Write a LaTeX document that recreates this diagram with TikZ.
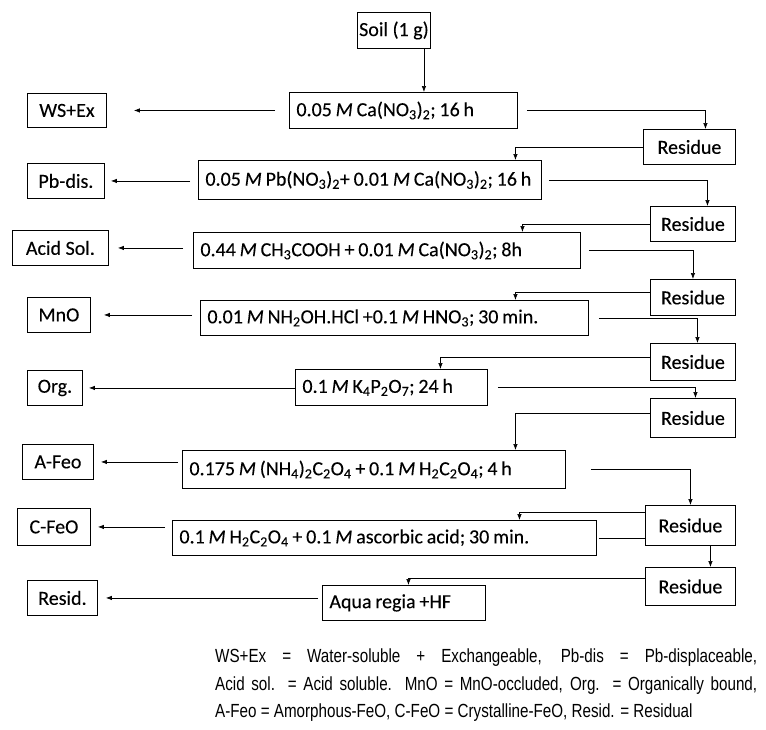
\documentclass[tikz,border=0pt]{standalone}
\usepackage{fontspec}
\setmainfont{Carlito}[FakeBold=0.15]
\newfontfamily\legendfont[FakeStretch=0.8]{Liberation Sans}
\usetikzlibrary{arrows.meta,backgrounds}
\newcommand\chemsub[1]{\textsubscript{#1}}
\newcommand\conc{\textit{M}}
\begin{document}
\begin{tikzpicture}[x=1pt,y=-1pt,
  frame/.style={draw, line width=0.9pt, fill=white, inner sep=0pt, anchor=north west,
                font=\fontsize{20}{24}\selectfont},
  fraction/.style={frame, align=center},
  residue/.style={frame, align=center},
  reagent/.style={frame, align=left, inner xsep=7pt,
                  execute at begin node={\spaceskip=0.19em\relax\hbox\bgroup},
                  execute at end node={\egroup}},
  flow/.style={line width=0.7pt, -{Latex[length=6pt,width=4.5pt]}}
]
\useasboundingbox (0,0) rectangle (766,729);

% start
\node[fraction, minimum width=73pt, minimum height=36pt] (soil) at (357,12) {Soil (1 g)};

% extraction steps
\node[reagent, text width=214pt, minimum height=36pt] (b1) at (289,92)
  {0.05 \conc{} Ca(NO\chemsub{3})\chemsub{2}; 16 h};
\node[reagent, text width=329pt, minimum height=39pt] (b2) at (198,160)
  {0.05 \conc{} Pb(NO\chemsub{3})\chemsub{2}+ 0.01 \conc{} Ca(NO\chemsub{3})\chemsub{2}; 16 h};
\node[reagent, text width=373pt, minimum height=36pt] (b3) at (193,232)
  {0.44 \conc{} CH\chemsub{3}COOH + 0.01 \conc{} Ca(NO\chemsub{3})\chemsub{2}; 8h};
\node[reagent, text width=374pt, minimum height=35pt] (b4) at (200,300)
  {0.01 \conc{} NH\chemsub{2}OH.HCl +0.1 \conc{} HNO\chemsub{3}; 30 min.};
\node[reagent, text width=178pt, minimum height=36pt] (b5) at (295,369)
  {0.1 \conc{} K\chemsub{4}P\chemsub{2}O\chemsub{7}; 24 h};
\node[reagent, text width=369pt, minimum height=38pt] (b6) at (182,450)
  {0.175 \conc{} (NH\chemsub{4})\chemsub{2}C\chemsub{2}O\chemsub{4} + 0.1 \conc{} H\chemsub{2}C\chemsub{2}O\chemsub{4}; 4 h};
\node[reagent, text width=410pt, minimum height=35pt] (b7) at (172,520)
  {0.1 \conc{} H\chemsub{2}C\chemsub{2}O\chemsub{4} + 0.1 \conc{} ascorbic acid; 30 min.};
\node[reagent, text width=149pt, minimum height=35pt] (b8) at (322,585)
  {Aqua regia +HF};

% fractions
\node[fraction, minimum width=79pt, minimum height=34pt] (ws)    at (27,93)  {WS+Ex};
\node[fraction, minimum width=77pt, minimum height=35pt] (pb)    at (27,163) {Pb-dis.};
\node[fraction, minimum width=96pt, minimum height=35pt] (acid)  at (12,230) {Acid Sol.};
\node[fraction, minimum width=63pt, minimum height=35pt] (mno)   at (27,297) {MnO};
\node[fraction, minimum width=55pt, minimum height=35pt] (org)   at (27,370) {Org.};
\node[fraction, minimum width=71pt, minimum height=35pt] (afeo)  at (22,444) {A-Feo};
\node[fraction, minimum width=73pt, minimum height=37pt] (cfeo)  at (17,508) {C-FeO};
\node[fraction, minimum width=70pt, minimum height=35pt] (resid) at (27,580) {Resid.};

% residues
\node[residue, minimum width=92pt, minimum height=35pt] (r1) at (643,129) {Residue};
\node[residue, minimum width=85pt, minimum height=35pt] (r2) at (650,206) {Residue};
\node[residue, minimum width=85pt, minimum height=36pt] (r3) at (650,279) {Residue};
\node[residue, minimum width=85pt, minimum height=37pt] (r4) at (650,343) {Residue};
\node[residue, minimum width=85pt, minimum height=39pt] (r5) at (650,398) {Residue};
\node[residue, minimum width=90pt, minimum height=40pt] (r6) at (645,505) {Residue};
\node[residue, minimum width=90pt, minimum height=38pt] (r7) at (645,567) {Residue};

\begin{scope}[on background layer]
  \draw[flow] ([xshift=30pt]soil.south) -- ([xshift=30pt]soil.south |- b1.north);

  % extracts to fractions
  \draw[flow, shorten <=14pt, shorten >=27pt] (ws.east -| b1.west) -- (ws.east);
  \draw[flow, shorten <=8pt,  shorten >=6pt]  (pb.east -| b2.west) -- (pb.east);
  \draw[flow, shorten <=10pt, shorten >=9pt]  (acid.east -| b3.west) -- (acid.east);
  \draw[flow, shorten <=8pt,  shorten >=13pt] (mno.east -| b4.west) -- (mno.east);
  \draw[flow, shorten >=6pt]                  (org.east -| b5.west) -- (org.east);
  \draw[flow, shorten <=4pt,  shorten >=7pt]  (afeo.east -| b6.west) -- (afeo.east);
  \draw[flow, shorten <=7pt,  shorten >=7pt]  (cfeo.east -| b7.west) -- (cfeo.east);
  \draw[flow, shorten <=4pt,  shorten >=8pt]  (resid.east -| b8.west) -- (resid.east);

  % steps to residues
  \draw[flow, shorten <=9pt]  (b1.east) -| ([xshift=16pt]r1.north);
  \draw[flow, shorten <=7pt]  (b2.east) -| ([xshift=14.5pt]r2.north);
  \draw[flow, shorten <=8pt]  (b3.east) -| (r3.north);
  \draw[flow, shorten <=10pt] (b4.east) -| ([xshift=4.5pt]r4.north);
  \draw[flow, shorten <=10pt] (b5.east) -| ([xshift=2.5pt]r5.north);
  \draw[flow, shorten <=25pt] (b6.east) -| (r6.north);
  \draw[flow, shorten <=2pt]  (b7.east) -| ([xshift=20pt]r7.north);

  % residues to next step
  \draw[flow] (r1.west) -| ([xshift=145.5pt]b2.north);
  \draw[flow] (r2.west) -| ([xshift=135.5pt]b3.north);
  \draw[flow] ([yshift=5pt]r3.west) -| ([xshift=121pt]b4.north);
  \draw[flow] ([yshift=4.5pt]r4.west) -| ([xshift=49pt]b5.north);
  \draw[flow] ([yshift=4.5pt]r5.west) -| ([xshift=141.5pt]b6.north);
  \draw[flow] ([yshift=13pt]r6.west) -| ([xshift=135pt]b7.north);
  \draw[flow] ([yshift=8pt]r7.west) -| ([xshift=4.5pt]b8.north);
\end{scope}

% abbreviations
\node[anchor=north west, inner sep=0pt, align=left,
      font=\legendfont\fontsize{19}{27.5}\selectfont] (legend) at (215,649)
  {\makebox[542pt][s]{WS+Ex = Water-soluble + Exchangeable, Pb-dis = Pb-displaceable,}\\
   \makebox[542pt][s]{Acid sol. = Acid soluble. MnO = MnO-occluded, Org. = Organically bound,}\\
   A-Feo = Amorphous-FeO, C-FeO = Crystalline-FeO, Resid. = Residual};
\end{tikzpicture}
\end{document}
